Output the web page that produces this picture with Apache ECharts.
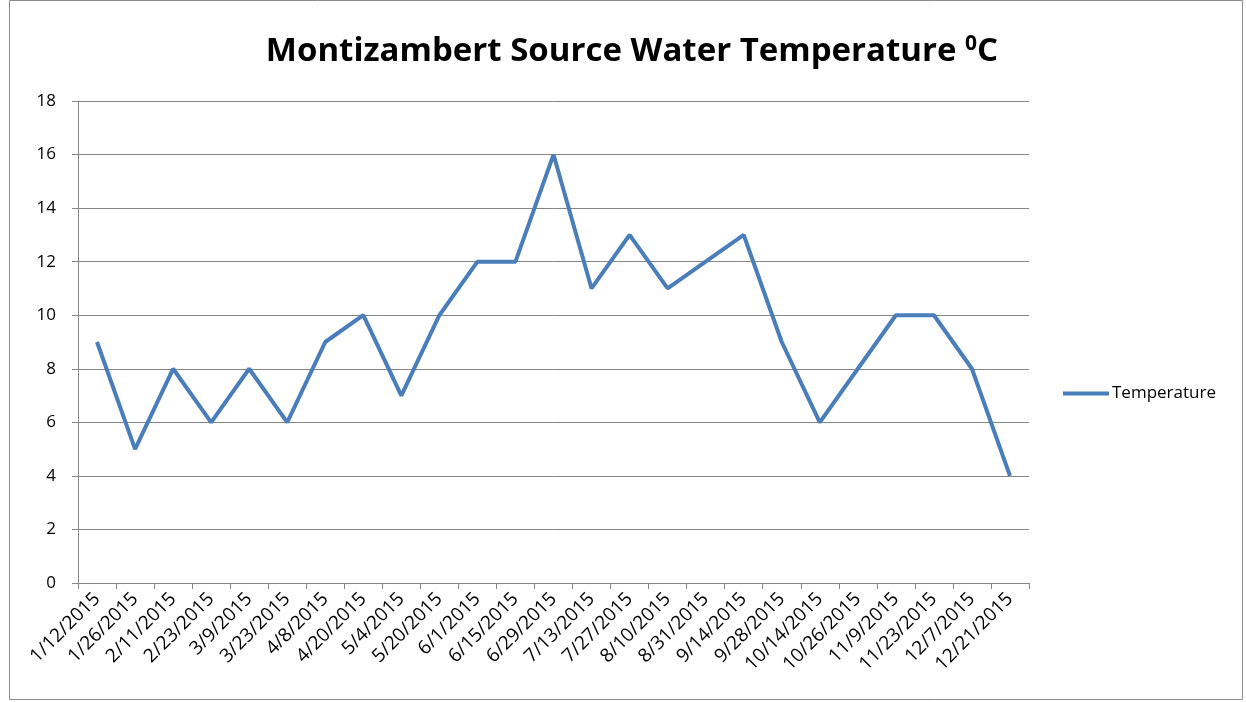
<!DOCTYPE html>
<html><head><meta charset="utf-8">
<script src="https://cdn.jsdelivr.net/npm/echarts@6/dist/echarts.min.js"></script>
<style>html,body{margin:0;padding:0;background:#fff}#c{width:1246px;height:702px}</style>
</head><body><div id="c"></div>
<script>
const categories = ['1/12/2015','1/26/2015','2/11/2015','2/23/2015','3/9/2015','3/23/2015','4/8/2015','4/20/2015','5/4/2015','5/20/2015','6/1/2015','6/15/2015','6/29/2015','7/13/2015','7/27/2015','8/10/2015','8/31/2015','9/14/2015','9/28/2015','10/14/2015','10/26/2015','11/9/2015','11/23/2015','12/7/2015','12/21/2015'];
const temperature = [9,5,8,6,8,6,9,10,7,10,12,12,16,11,13,11,12,13,9,6,8,10,10,8,4];
const seriesName = 'Temperature';

const chart = echarts.init(document.getElementById('c'));
const ff = '"Open Sans", sans-serif';
chart.setOption({
  animation: false,
  title: {
    text: '{m|Montizambert Source Water Temperature }{s|0}{m|C}',
    left: 627, textAlign: 'center', top: 29,
    textStyle: {
      rich: {
        m: {fontFamily: ff, fontWeight: 'bold', fontSize: 33, color: '#000'},
        s: {fontFamily: ff, fontWeight: 'bold', fontSize: 21, color: '#000', verticalAlign: 'top', padding: [0,0,15,0]}
      }
    }
  },
  graphic: [{type: 'rect', shape: {x: 9.5, y: 0.5, width: 1233, height: 699}, style: {fill: 'none', stroke: '#8c8c8c', lineWidth: 1}, silent: true, z: -1}],
  legend: {
    data: [seriesName], orient: 'vertical', left: 1058, top: 380,
    itemWidth: 46, itemHeight: 10, itemGap: 4,
    icon: 'path://M0,3 L46,3 L46,7 L0,7 Z',
    textStyle: {fontFamily: ff, fontSize: 17, color: '#000', padding: [0,0,0,-2]}
  },
  grid: {left: 78, right: 217, top: 101, bottom: 119, containLabel: false},
  xAxis: {
    type: 'category', data: categories, boundaryGap: true,
    axisLine: {lineStyle: {color: '#868686', width: 1}},
    axisTick: {show: true, length: 6, lineStyle: {color: '#868686'}},
    axisLabel: {rotate: 45, interval: 0, fontFamily: ff, fontSize: 19, letterSpacing: 0.4, color: '#000', margin: 13}
  },
  yAxis: {
    type: 'value', min: 0, max: 18, interval: 2,
    axisLine: {show: true, lineStyle: {color: '#868686'}},
    axisTick: {show: true, length: 6, lineStyle: {color: '#868686'}},
    splitLine: {lineStyle: {color: '#868686', width: 1}},
    axisLabel: {fontFamily: ff, fontSize: 17, color: '#000', margin: 22}
  },
  series: [{
    name: seriesName, type: 'line', data: temperature,
    symbol: 'none', lineStyle: {color: '#4a7ebb', width: 4}, itemStyle: {color: '#4a7ebb'}
  }]
});
</script></body></html>
